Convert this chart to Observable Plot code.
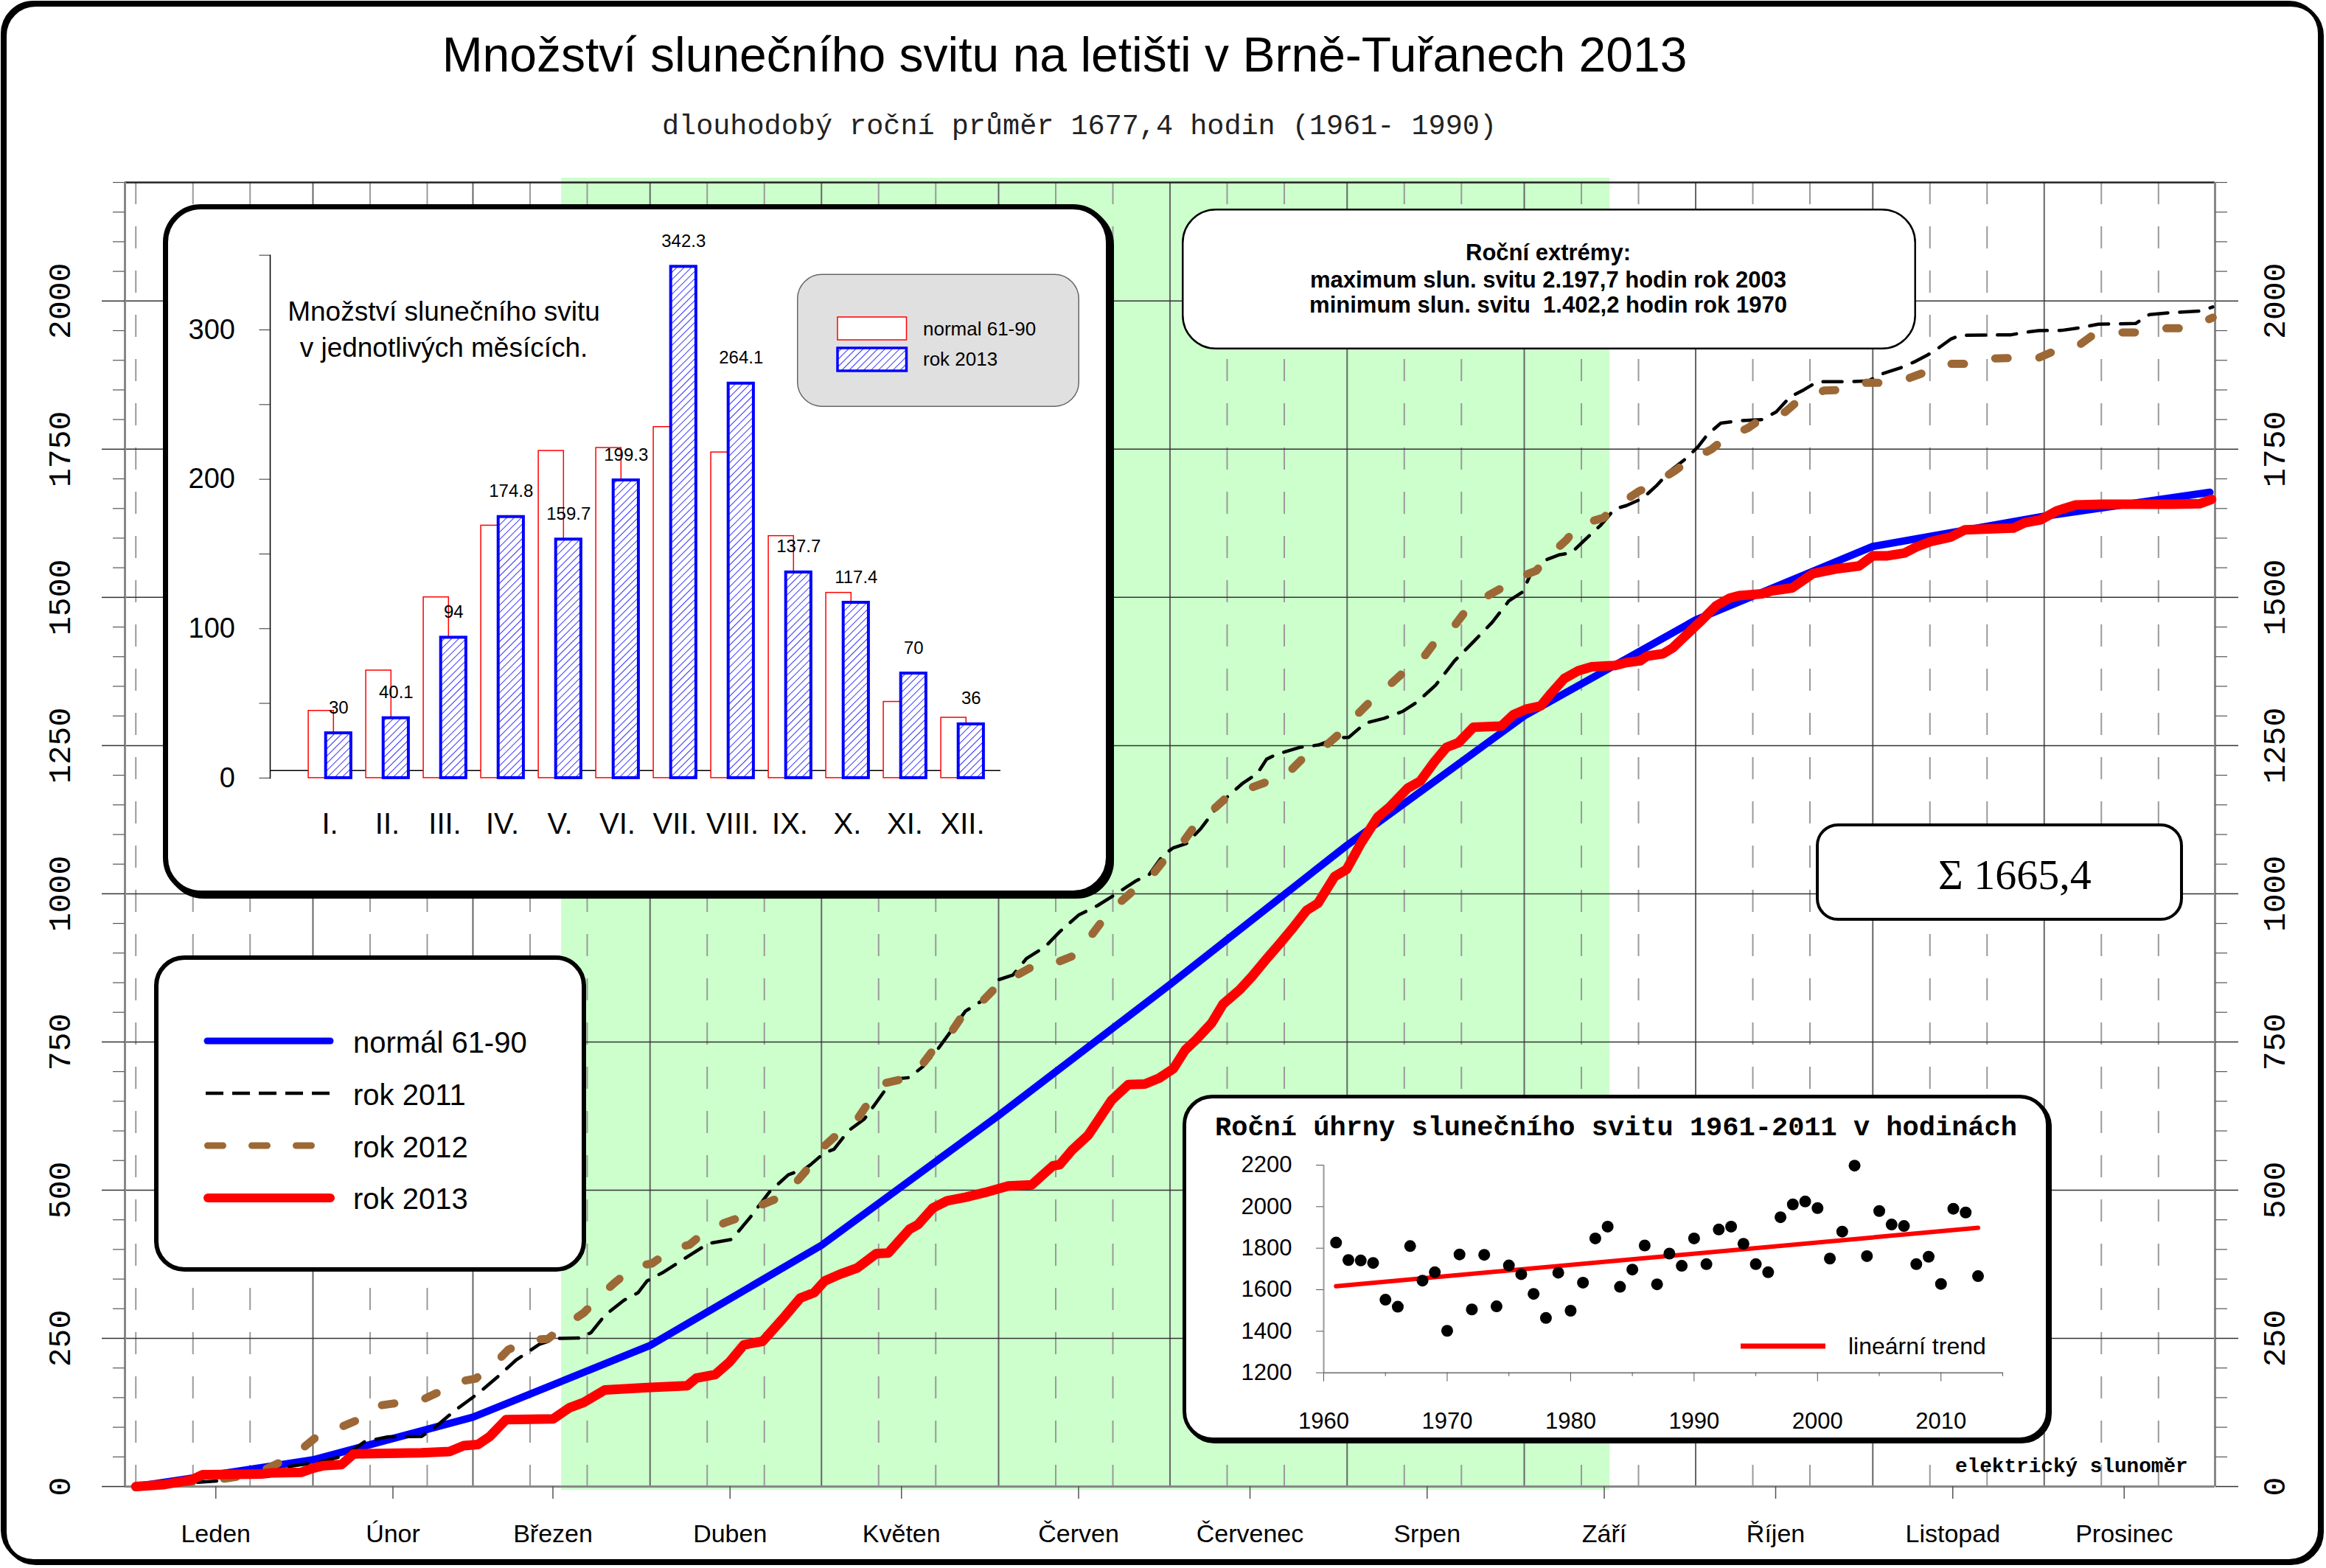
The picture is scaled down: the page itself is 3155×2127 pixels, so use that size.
<!DOCTYPE html>
<html><head><meta charset="utf-8">
<script src="https://cdn.jsdelivr.net/npm/d3@7"></script>
<script src="https://cdn.jsdelivr.net/npm/@observablehq/plot@0.6"></script>
<style>
html,body{margin:0;padding:0;background:#fff;overflow:hidden}
#page{position:relative;width:3155px;height:2127px;background:#fff}
#page svg{position:absolute;max-width:none}
</style></head><body><div id="page"></div>
<script>
// ---------------- DATA ----------------
const monthNames = ["Leden","Únor","Březen","Duben","Květen","Červen","Červenec","Srpen","Září","Říjen","Listopad","Prosinec"];
const monthStartDays = [0,31,59,90,120,151,181,212,243,273,304,334];
const normalNodeDays = [0,31,59,90,120,151,181,212,243,273,304,334,363];
const greenSeason = [{start: 74.5, end: 258}];
const romanMonths = ["I.","II.","III.","IV.","V.","VI.","VII.","VIII.","IX.","X.","XI.","XII."];
const normalMonthly = [45, 72, 121, 169, 219, 221, 235, 218, 162, 124, 51, 40.4];
const monthly2013 = [30, 40.1, 94, 174.8, 159.7, 199.3, 342.3, 264.1, 137.7, 117.4, 70, 36];
const yTicksMajor = [0,250,500,750,1000,1250,1500,1750,2000];

// cumulative daily sunshine [day of year, hours]
const line2011 = [[0,0],[6,4],[11.3,7.5],[14.2,9.5],[20,19],[24,30],[28.6,36.5],[31.9,40],[36.8,53],[40.1,76],[44.2,84],[50,84.5],[52.5,101],[55.8,128],[59.9,157],[63.2,184],[66.5,213],[70.6,240],[73.9,250],[78,250.5],[79.7,260],[82.1,289],[85.4,314],[87.9,327],[89.5,347],[92.4,362],[96.1,385],[100.2,410],[104.3,417],[107.6,455],[110.9,497],[114.2,526],[117.1,536],[118.1,543],[120.5,563],[122.2,569],[124.7,600],[127.5,620],[129.6,648],[132.5,687],[135.4,690],[137.8,709],[140.3,737],[142.8,770],[145.2,802],[148.5,822],[151,855],[153.5,863],[155.9,891],[159.2,911],[161.7,936],[165,964],[168.3,980],[171.6,1000],[174.9,1021],[177.4,1033],[179.8,1065],[181.5,1077],[183.9,1085],[186.4,1110],[188.9,1142],[191.3,1166],[193.8,1187],[196.3,1203],[197.9,1227],[199.6,1235],[203.7,1247],[207,1251],[210.3,1263],[212.3,1264],[215.2,1288],[218.5,1296],[221.8,1308],[224.3,1324],[227.5,1352],[230.8,1393],[234.1,1425],[237.4,1458],[240.3,1494],[242.7,1509],[244.3,1543],[246.7,1563],[249.2,1572],[251.2,1575],[253.6,1597],[256.4,1622],[258.8,1649],[260.9,1655],[263.7,1667],[266.1,1688],[268.5,1713],[271.4,1735],[273.4,1754],[275,1774],[277.4,1794],[280.6,1798],[284.6,1800],[287.1,1813],[289.5,1838],[291.9,1850],[294.3,1864],[299.9,1864],[303.2,1865],[305.6,1877],[308.8,1887],[311.2,1897],[313.6,1909],[315.7,1922],[317.7,1936],[319.3,1942],[328.2,1943],[330.6,1947],[333,1950],[337.1,1950.5],[340.3,1955],[343.5,1961],[350,1962],[352.4,1977],[355.6,1980],[361.3,1983],[363.5,1990]];
const line2012 = [[0,0],[4,4],[10,8],[16,14],[20,20],[22.4,28],[25.3,41],[29,63],[31.9,86],[35.6,99],[38.5,111],[42.2,136],[45.1,140],[49.6,144],[52.5,157],[56.6,177],[59.5,182],[63.2,211],[65.2,231],[69.3,248],[72.1,249],[75.9,277],[78.4,293],[81.7,325],[83.7,343],[87.4,372],[90.3,376],[94,401],[96.9,408],[100.2,434],[103.1,445],[107.2,459],[109.2,474],[113.8,492],[115.8,516],[118.2,543],[120.1,571],[123.9,604],[126.3,620],[128.8,656],[131.3,681],[135,689],[137.4,709],[139.9,741],[142.4,762],[145.2,802],[148.1,818],[151.8,855],[154.3,863],[157.6,881],[160.9,883],[165,899],[166.7,923],[169.6,960],[171.6,980],[174.9,1008],[177,1021],[180.3,1061],[182.8,1081],[185.6,1118],[188.1,1138],[191.3,1166],[193.8,1174],[198.3,1190],[201.2,1199],[204.5,1231],[207,1239],[210.3,1267],[212.7,1292],[216,1324],[218.5,1344],[221.8,1373],[224.3,1385],[227.1,1421],[229.6,1437],[232.5,1474],[235,1494],[238.7,1514],[241.1,1530],[245.1,1545],[247.1,1568],[250.4,1597],[252.4,1622],[256.8,1634],[259.2,1654],[262.9,1678],[265.3,1690],[269.3,1713],[271.7,1730],[275.8,1750],[278.2,1769],[282.2,1786],[284.2,1799],[288.7,1813],[291.1,1833],[295.5,1849],[298.4,1850],[302.4,1862],[305.6,1862],[310.4,1870],[313.2,1880],[317.3,1894],[320.5,1894],[324.9,1903],[328.2,1904],[333,1904],[335.4,1914],[339.9,1924],[342.3,1941],[347.1,1947],[350,1947],[354.4,1954],[357.6,1954],[362.1,1966],[363.5,1972]];
const line2013 = [[0,0],[4.7,3],[9.7,11],[11.7,20],[22,21],[23.7,23],[29,24],[31,31],[32.7,35],[36,37],[38.1,55],[50,57],[54.9,59],[57.4,69],[59.9,71],[61.9,84],[64.8,113],[73,114],[75.9,133],[78.4,142],[82.1,163],[89.5,167],[96.5,170],[98.1,183],[101.4,189],[103.9,210],[106.4,239],[109.7,245],[113.4,285],[116.3,318],[118.7,327],[120.6,347],[123.2,358],[126.3,369],[129.6,393],[131.7,394],[135.4,434],[136.9,442],[139.5,470],[142,482],[145.2,488],[148.6,496],[152.7,507],[156.8,509],[158.4,523],[160.5,541],[161.7,543],[163.8,567],[166.7,593],[170.8,652],[173.7,678],[176.6,679],[179.1,689],[181.6,705],[183.7,737],[185.7,755],[188.3,782],[190.3,814],[193.2,838],[195.3,860],[197.8,889],[200.3,917],[202.3,940],[204.9,972],[206.9,984],[209.8,1029],[211.9,1041],[214.4,1085],[217.4,1130],[219.4,1146],[222.6,1178],[224.8,1190],[227.3,1223],[229.4,1247],[231.5,1255],[234.1,1281],[239,1283],[241.1,1302],[243.5,1312],[245.9,1317],[247.5,1336],[250,1363],[252.4,1376],[254.8,1383],[258.8,1385],[260.9,1390],[263.3,1393],[264.5,1401],[267.3,1405],[269,1415],[271.4,1437],[273.8,1459],[276.6,1486],[279,1499],[280.6,1503],[284.6,1506],[286.3,1511],[289.9,1516],[293.5,1540],[297.5,1548],[301.6,1553],[304,1570],[306.4,1570],[309.6,1575],[311.6,1585],[314.1,1594],[317.7,1602],[320.1,1614],[328.6,1617],[330.6,1626],[333.4,1631],[336.2,1646],[339.5,1656],[344.3,1657],[356.4,1657],[361.2,1658],[363.3,1665.4]];

// annual totals 1961-2013
const annualYears = [1961,1962,1963,1964,1965,1966,1967,1968,1969,1970,1971,1972,1973,1974,1975,1976,1977,1978,1979,1980,1981,1982,1983,1984,1985,1986,1987,1988,1989,1990,1991,1992,1993,1994,1995,1996,1997,1998,1999,2000,2001,2002,2003,2004,2005,2006,2007,2008,2009,2010,2011,2012,2013];
const annualSunshine = [1827,1743,1741,1729,1552,1518,1810,1644,1684,1402.2,1770,1505,1768,1520,1717,1675,1580,1464,1682,1499,1634,1847,1904,1614,1697,1813,1626,1774,1715,1847,1723,1890,1904,1821,1723,1684,1949,2011,2025,1993,1750,1880,2197.7,1762,1979,1914,1907,1723,1759,1628,1990,1972,1665.4];
const trendYears = [1961, 2013];
const trendValues = [1617, 1898];
const scatterYTicks = [1200,1400,1600,1800,2000,2200];
const scatterXMajor = [1960,1970,1980,1990,2000,2010];
const scatterXMinor = [1965,1975,1985,1995,2005,2015];

// ---------------- BUILD ----------------
const page = document.getElementById("page");
const toObj = arr => arr.map(([d, v]) => ({d, v}));
const normalCum = [0, ...d3.cumsum(normalMonthly)];
const normalLine = normalNodeDays.map((d, i) => ({d, v: normalCum[i]}));
const monthMidDays = monthStartDays.map(d => d + 14);
const decadeDays = monthStartDays.flatMap((d, i) => i === 0 ? [d, d + 10, d + 20] : [d + 10, d + 20]);
const yTicksMinor = d3.range(50, 2201, 50).filter(v => v % 250 !== 0);
const xDomain = [-1.9, 363.9];
const yDomain = [0, 2200];

const main = Plot.plot({
  width: 3155, height: 2127,
  marginLeft: 169, marginRight: 151, marginTop: 247, marginBottom: 111,
  x: {domain: xDomain},
  y: {domain: yDomain},
  style: {background: "white", fontFamily: "Liberation Sans", color: "black", overflow: "visible"},
  marks: [
    Plot.rect(greenSeason, {x1: "start", x2: "end", fill: "#ccffcc", insetTop: -6, insetBottom: -5}),
    Plot.ruleX(decadeDays, {stroke: "#9a9a9a", strokeWidth: 2, strokeDasharray: "30,30"}),
    Plot.ruleX(monthStartDays.slice(1), {stroke: "#666", strokeWidth: 2}),
    Plot.ruleY(yTicksMajor, {stroke: "#333", strokeWidth: 1.5}),
    Plot.ruleY([yDomain[1]], {stroke: "#222", strokeWidth: 2.5}),
    Plot.ruleX(xDomain, {stroke: "#888", strokeWidth: 3}),
    Plot.ruleY([0], {stroke: "#888", strokeWidth: 3}),
    Plot.axisY(yTicksMajor, {anchor: "left", tickSize: 31, stroke: "#333", strokeWidth: 1.5, tickFormat: () => "", label: null}),
    Plot.axisY(yTicksMinor, {anchor: "left", tickSize: 16, stroke: "#555", strokeWidth: 1.2, tickFormat: () => "", label: null}),
    Plot.axisY(yTicksMajor, {anchor: "right", tickSize: 31, stroke: "#333", strokeWidth: 1.5, tickFormat: () => "", label: null}),
    Plot.axisY(yTicksMinor, {anchor: "right", tickSize: 16, stroke: "#555", strokeWidth: 1.2, tickFormat: () => "", label: null}),
    Plot.axisY(yTicksMajor, {anchor: "left", tickSize: 0, tickPadding: 75, tickRotate: -90, fontSize: 43, fontFamily: "Liberation Mono", fill: "black", tickFormat: d => String(d), label: null}),
    Plot.axisY(yTicksMajor, {anchor: "right", tickSize: 0, tickPadding: 94, tickRotate: -90, fontSize: 43, fontFamily: "Liberation Mono", fill: "black", tickFormat: d => String(d), label: null}),
    Plot.axisX(monthMidDays, {anchor: "bottom", tickSize: 17, tickPadding: 34.6, stroke: "#555", strokeWidth: 1.5, fontSize: 34, fontFamily: "Liberation Sans", fill: "black", tickFormat: d => monthNames[monthMidDays.indexOf(d)], label: null}),
    Plot.line(normalLine, {x: "d", y: "v", stroke: "#0000ff", strokeWidth: 10, strokeLinejoin: "round", strokeLinecap: "round"}),
    Plot.line(toObj(line2011), {x: "d", y: "v", stroke: "black", strokeWidth: 4.5, strokeDasharray: "26,16"}),
    Plot.line(toObj(line2012), {x: "d", y: "v", stroke: "#9c6836", strokeWidth: 11, strokeDasharray: "17,43", strokeLinecap: "round"}),
    Plot.line(toObj(line2013), {x: "d", y: "v", stroke: "#ff0000", strokeWidth: 13, strokeLinejoin: "round", strokeLinecap: "round"})
  ]
});
main.style.left = "0px"; main.style.top = "0px";
page.appendChild(main);

// ---------------- OVERLAY (boxes, annotations, legends) ----------------
const ov = d3.select(page).append("svg").attr("width", 3155).attr("height", 2127)
  .style("left", "0px").style("top", "0px");
ov.append("defs").html('<pattern id="hatch2" patternUnits="userSpaceOnUse" width="7" height="7" patternTransform="rotate(45)"><rect width="7" height="7" fill="white"/><line x1="0" y1="0" x2="0" y2="7" stroke="#0000ff" stroke-width="1.6"/></pattern>');

function box(x, y, w, h, rx, sw, fill = "white", stroke = "black", shadow = 0) {
  if (shadow) ov.append("rect").attr("x", x + shadow).attr("y", y + shadow).attr("width", w).attr("height", h)
    .attr("rx", rx).attr("fill", "none").attr("stroke", "black").attr("stroke-width", sw);
  ov.append("rect").attr("x", x).attr("y", y).attr("width", w).attr("height", h).attr("rx", rx)
    .attr("fill", fill).attr("stroke", stroke).attr("stroke-width", sw);
}
function label(x, y, s, size, family, o = {}) {
  ov.append("text").attr("x", x).attr("y", y).attr("font-size", size).attr("font-family", family)
    .attr("text-anchor", o.anchor || "start").attr("font-weight", o.weight || "normal")
    .attr("fill", o.fill || "black").style("white-space", "pre").text(s);
}
function seg(x1, x2, y, stroke, sw, dash, cap) {
  ov.append("line").attr("x1", x1).attr("x2", x2).attr("y1", y).attr("y2", y)
    .attr("stroke", stroke).attr("stroke-width", sw).attr("stroke-dasharray", dash || null)
    .attr("stroke-linecap", cap || "butt");
}

// outer frame
ov.append("rect").attr("x", 6.5).attr("y", 6.5).attr("width", 3143).attr("height", 2114).attr("rx", 42)
  .attr("fill", "none").attr("stroke", "black").attr("stroke-width", 5);
ov.append("rect").attr("x", 3.5).attr("y", 3.5).attr("width", 3143).attr("height", 2114).attr("rx", 42)
  .attr("fill", "none").attr("stroke", "black").attr("stroke-width", 5);

// title & subtitle
label(1444, 97, "Množství slunečního svitu na letišti v Brně-Tuřanech 2013", 66, "Liberation Sans", {anchor: "middle"});
label(1464, 182, "dlouhodobý roční průměr 1677,4 hodin (1961- 1990)", 38.5, "Liberation Mono", {anchor: "middle", fill: "#222"});
label(2652, 1997, "elektrický slunoměr", 27.7, "Liberation Mono", {weight: "bold"});

// bar inset box
box(224.5, 280.5, 1279, 931, 48, 7, "white", "black", 4);
label(602, 434.5, "Množství slunečního svitu", 37, "Liberation Sans", {anchor: "middle"});
label(602, 483.5, "v jednotlivých měsících.", 37, "Liberation Sans", {anchor: "middle"});
box(1081.75, 372.25, 381.5, 179, 33, 1.5, "#e0e0e0", "#666");
ov.append("rect").attr("x", 1136).attr("y", 430).attr("width", 93.5).attr("height", 31).attr("fill", "white").attr("stroke", "#ff0000").attr("stroke-width", 1.5);
ov.append("rect").attr("x", 1136).attr("y", 472).attr("width", 93.5).attr("height", 31).attr("fill", "url(#hatch2)").attr("stroke", "#0000ff").attr("stroke-width", 3.5);
label(1252, 455, "normal 61-90", 26, "Liberation Sans");
label(1252, 496, "rok 2013", 26, "Liberation Sans");

// extremes box
box(1604.25, 284.25, 993.5, 188.5, 45, 2.5);
label(2100, 353, "Roční extrémy:", 31, "Liberation Sans", {anchor: "middle", weight: "bold"});
label(2100, 390, "maximum slun. svitu 2.197,7 hodin rok 2003", 31, "Liberation Sans", {anchor: "middle", weight: "bold"});
label(2100, 424, "minimum slun. svitu  1.402,2 hodin rok 1970", 31, "Liberation Sans", {anchor: "middle", weight: "bold"});

// sum box
box(2465, 1119, 494, 128, 28, 4);
label(2733, 1206, "Σ 1665,4", 58, "Liberation Serif", {anchor: "middle"});

// line legend
box(212, 1299, 580, 423, 38, 6);
seg(281, 448, 1412, "#0000ff", 9, null, "round");
seg(279, 450, 1483, "black", 4.5, "24,12");
seg(281.5, 450, 1554, "#9c6836", 9, "21,39", "round");
seg(282, 448, 1625, "#ff0000", 12, null, "round");
label(479, 1428, "normál 61-90", 40, "Liberation Sans");
label(479, 1499, "rok 2011", 40, "Liberation Sans");
label(479, 1570, "rok 2012", 40, "Liberation Sans");
label(479, 1640, "rok 2013", 40, "Liberation Sans");

// scatter box
box(1606.5, 1487.5, 1171, 465, 38, 5, "white", "black", 3);
label(2192, 1540, "Roční úhrny slunečního svitu 1961-2011 v hodinách", 37, "Liberation Mono", {anchor: "middle", weight: "bold"});
seg(2361, 2476, 1826, "#ff0000", 7, null, "butt");
label(2507, 1837, "lineární trend", 32, "Liberation Sans");

// ---------------- BAR INSET ----------------
const barData = romanMonths.map((m, i) => ({m, normal: normalMonthly[i], v2013: monthly2013[i], label: String(monthly2013[i])}));
const bars = Plot.plot({
  width: 1286, height: 938,
  marginLeft: 145, marginRight: 150, marginTop: 68.7, marginBottom: 160.1,
  x: {type: "band", domain: romanMonths, range: [185.2, 1124.9], padding: 0},
  y: {domain: [0, 350]},
  style: {background: "transparent", fontFamily: "Liberation Sans", color: "black", overflow: "visible"},
  marks: [
    Plot.ruleY([5], {stroke: "black", strokeWidth: 1.5}),
    Plot.barY(barData, {x: "m", y: "normal", fill: "white", stroke: "#ff0000", strokeWidth: 1.5, insetLeft: 10.1, insetRight: 33.7}),
    Plot.barY(barData, {x: "m", y: "v2013", fill: "url(#hatch)", stroke: "#0000ff", strokeWidth: 4, insetLeft: 33.7, insetRight: 10.1}),
    Plot.frame({anchor: "left", stroke: "black", strokeWidth: 1.5}),
    Plot.axisY(d3.range(0, 351, 50), {tickSize: 14.5, tickPadding: 33, stroke: "#333", fontSize: 38, fill: "black", tickFormat: d => d % 100 === 0 ? String(d) : "", label: null}),
    Plot.axisX({tickSize: 0, tickPadding: 47, fontSize: 40, fill: "black", label: null}),
    Plot.text(barData, {x: "m", y: "v2013", text: "label", dx: 11.8, dy: -27, lineAnchor: "bottom", fontSize: 24, fill: "black"})
  ]
});
d3.select(bars).insert("defs", ":first-child").html('<pattern id="hatch" patternUnits="userSpaceOnUse" width="7" height="7" patternTransform="rotate(45)"><rect width="7" height="7" fill="white"/><line x1="0" y1="0" x2="0" y2="7" stroke="#0000ff" stroke-width="1.6"/></pattern>');
bars.style.left = "221px"; bars.style.top = "277px";
page.appendChild(bars);

// ---------------- SCATTER INSET ----------------
const annual = annualYears.map((y, i) => ({y, v: annualSunshine[i]}));
const trend = trendYears.map((y, i) => ({y, v: trendValues[i]}));
const sc = Plot.plot({
  width: 1176, height: 470,
  marginLeft: 191, marginRight: 64, marginTop: 95, marginBottom: 93.3,
  x: {domain: [1960, 2015]},
  y: {domain: [1200, 2200]},
  style: {background: "transparent", fontFamily: "Liberation Sans", color: "black", overflow: "visible"},
  marks: [
    Plot.ruleX([1960], {stroke: "#999", strokeWidth: 2}),
    Plot.ruleY([1200], {stroke: "#888", strokeWidth: 2}),
    Plot.axisY(scatterYTicks, {tickSize: 10, tickPadding: 33, stroke: "#555", fontSize: 31, fill: "black", tickFormat: d => String(d), label: null}),
    Plot.axisX(scatterXMajor, {tickSize: 12, tickPadding: 42, stroke: "#555", fontSize: 31, fill: "black", tickFormat: d => String(d), label: null}),
    Plot.axisX(scatterXMinor, {tickSize: 5, stroke: "#555", tickFormat: () => "", label: null}),
    Plot.line(trend, {x: "y", y: "v", stroke: "#ff0000", strokeWidth: 6}),
    Plot.dot(annual, {x: "y", y: "v", r: 8, fill: "black"})
  ]
});
sc.style.left = "1604px"; sc.style.top = "1485px";
page.appendChild(sc);
</script></body></html>
